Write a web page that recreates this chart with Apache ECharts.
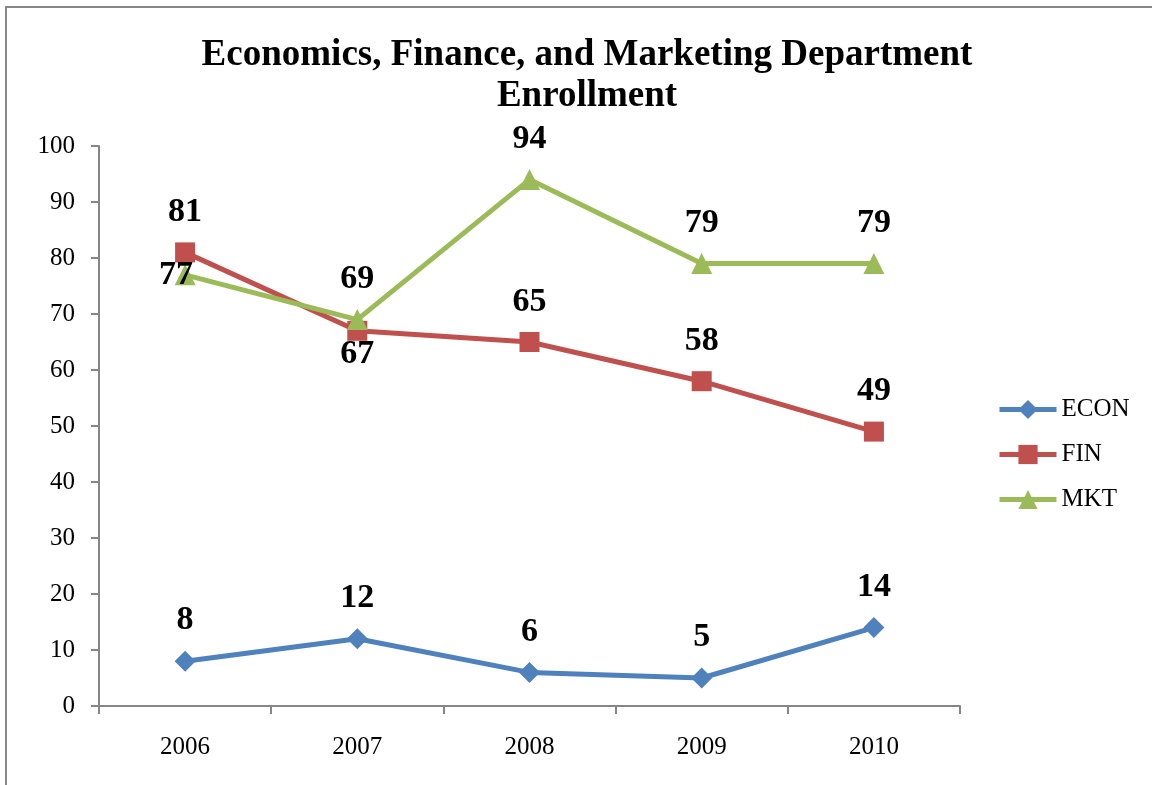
<!DOCTYPE html>
<html>
<head>
<meta charset="utf-8">
<script src="https://cdn.jsdelivr.net/npm/echarts@6/dist/echarts.min.js"></script>
<style>
  html, body { margin: 0; padding: 0; background: #fff; }
  #chart { width: 1152px; height: 785px; }
</style>
</head>
<body>
<div id="chart"></div>
<script>
// Enrollment by department, 2006-2010
const years = ['2006', '2007', '2008', '2009', '2010'];
const econ = [8, 12, 6, 5, 14];
const fin = [81, 67, 65, 58, 49];
const mkt = [77, 69, 94, 79, 79];
const yTicks = [0, 10, 20, 30, 40, 50, 60, 70, 80, 90, 100];

const SERIF = '"Liberation Serif", "Times New Roman", serif';
const AXIS_GRAY = '#868686';

const valueLabel = {
  show: true,
  position: 'top',
  distance: 13,
  fontFamily: SERIF,
  fontWeight: 'bold',
  fontSize: 34,
  color: '#000'
};

// FIN 2007 label sits under its point; MKT 2006 label is centred just left of its point
const finData = fin.map((v, i) => i === 1
  ? { value: v, label: { position: 'bottom', distance: -4 } }
  : v);
const mktData = mkt.map((v, i) => i === 0
  ? { value: v, label: { position: 'inside', offset: [-9, 0] } }
  : v);

const chart = echarts.init(document.getElementById('chart'));
chart.setOption({
  animation: false,
  backgroundColor: '#fff',
  graphic: [{
    type: 'rect',
    shape: { x: 6, y: 7, width: 1300, height: 900 },
    style: { fill: 'none', stroke: AXIS_GRAY, lineWidth: 2 },
    silent: true
  }],
  title: {
    text: 'Economics, Finance, and Marketing Department\nEnrollment',
    left: 582,
    textAlign: 'center',
    top: 30,
    textStyle: {
      fontFamily: SERIF,
      fontWeight: 'bold',
      fontSize: 37,
      lineHeight: 41,
      color: '#000'
    }
  },
  legend: {
    orient: 'vertical',
    left: 992,
    top: 392,
    itemWidth: 57,
    itemHeight: 24,
    itemGap: 20,
    lineStyle: { width: 5 },
    textStyle: { fontFamily: SERIF, fontSize: 25, color: '#000' },
    data: ['ECON', 'FIN', 'MKT']
  },
  grid: { left: 99, right: 192, top: 146, bottom: 79, containLabel: false },
  xAxis: {
    type: 'category',
    data: years,
    boundaryGap: true,
    axisLine: { lineStyle: { color: AXIS_GRAY, width: 2 } },
    axisTick: { show: true, length: 8, inside: false, lineStyle: { color: AXIS_GRAY, width: 2 } },
    axisLabel: { margin: 29, fontFamily: SERIF, fontSize: 25, color: '#000' },
    splitLine: { show: false }
  },
  yAxis: {
    type: 'value',
    min: yTicks[0],
    max: yTicks[yTicks.length - 1],
    interval: yTicks[1] - yTicks[0],
    axisLine: { show: true, lineStyle: { color: AXIS_GRAY, width: 2 } },
    axisTick: { show: true, length: 8, lineStyle: { color: AXIS_GRAY, width: 2 } },
    axisLabel: { margin: 24, fontFamily: SERIF, fontSize: 25, color: '#000' },
    splitLine: { show: false }
  },
  series: [
    {
      name: 'ECON', type: 'line', data: econ,
      symbol: 'diamond', symbolSize: 21,
      lineStyle: { color: '#4F81BD', width: 5 },
      itemStyle: { color: '#4F81BD' },
      label: valueLabel
    },
    {
      name: 'FIN', type: 'line', data: finData,
      symbol: 'rect', symbolSize: 20,
      lineStyle: { color: '#C0504D', width: 5 },
      itemStyle: { color: '#C0504D' },
      label: valueLabel
    },
    {
      name: 'MKT', type: 'line', data: mktData,
      symbol: 'triangle', symbolSize: 21,
      lineStyle: { color: '#9BBB59', width: 5 },
      itemStyle: { color: '#9BBB59' },
      label: valueLabel
    }
  ]
});
</script>
</body>
</html>
